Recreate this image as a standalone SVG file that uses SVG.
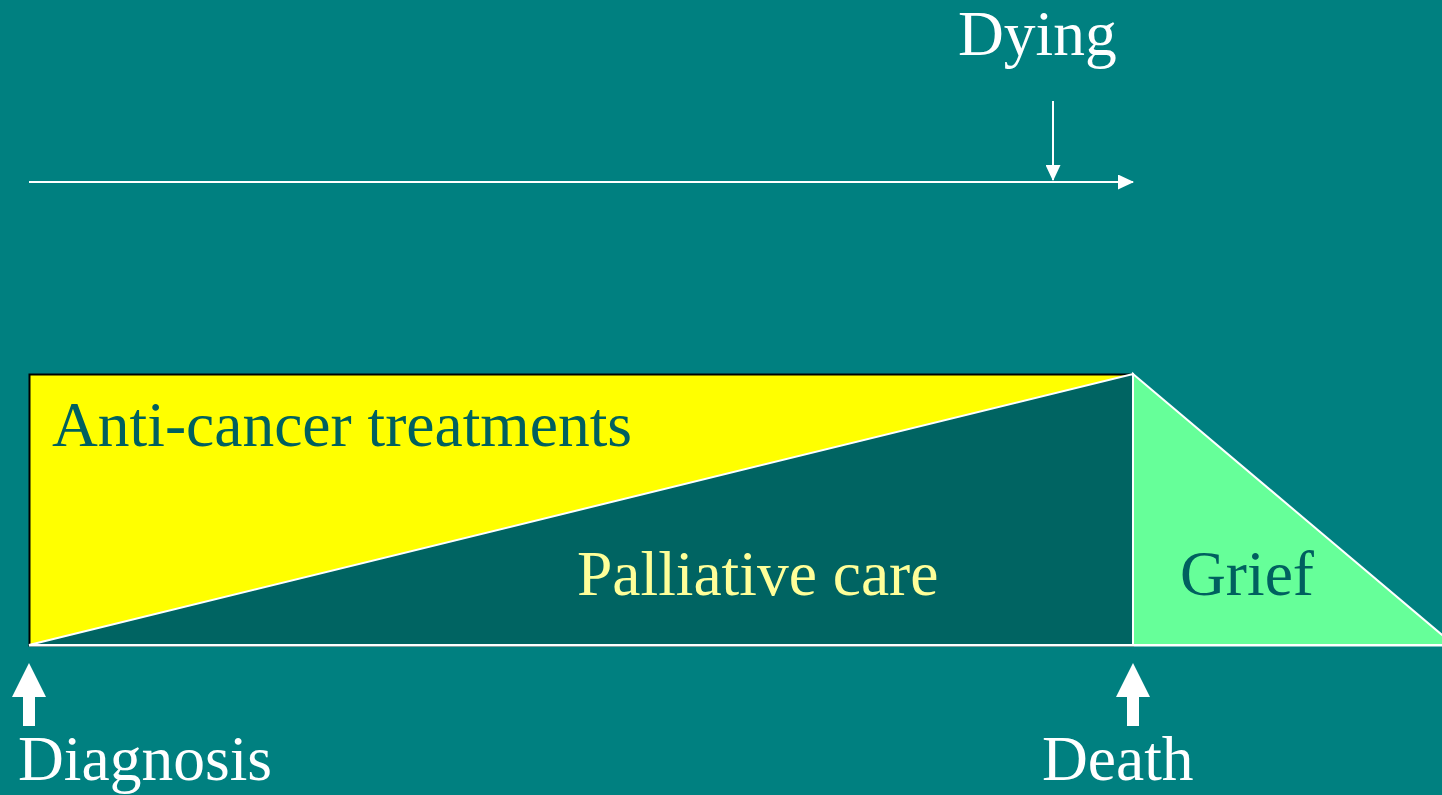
<svg xmlns="http://www.w3.org/2000/svg" width="1442" height="795" viewBox="0 0 1442 795">
<style>
.t{font-family:"Liberation Serif","Times New Roman",serif;font-size:63.5px}
.w{fill:#ffffff}
.dk{fill:#00605f}
</style>
<defs>
<marker id="ah" markerWidth="16" markerHeight="15" refX="15" refY="7.5" orient="auto" markerUnits="userSpaceOnUse">
<path d="M0,0 L16,7.5 L0,15 Z" fill="#ffffff"/>
</marker>
<path id="up" d="M0,0 L17,34 L6,34 L6,63 L-6,63 L-6,34 L-17,34 Z" fill="#ffffff"/>
</defs>
<rect width="1442" height="795" fill="#008080"/>
<g id="treatments">
<rect x="29.5" y="374.5" width="1103.5" height="271" fill="#ffff00" stroke="#000000" stroke-width="2"/>
<text class="t dk" x="52" y="446">Anti-cancer treatments</text>
</g>
<g id="palliative">
<polygon points="29,645 1133,374 1133,645" fill="#006462" stroke="#ffffff" stroke-width="2"/>
<text class="t" x="577" y="595" fill="#ffff99">Palliative care</text>
</g>
<g id="grief">
<polygon points="1133,374 1454,645 1133,645" fill="#66ff99" stroke="#ffffff" stroke-width="2"/>
<text class="t dk" x="1180" y="595">Grief</text>
</g>
<g id="baseline">
<line x1="29" y1="645.5" x2="1442" y2="645.5" stroke="#ffffff" stroke-width="2"/>
</g>
<g id="connectors">
<line x1="29" y1="182" x2="1133" y2="182" stroke="#ffffff" stroke-width="2" marker-end="url(#ah)"/>
<line x1="1053" y1="101" x2="1053" y2="180" stroke="#ffffff" stroke-width="2" marker-end="url(#ah)"/>
</g>
<g id="dying">
<text class="t w" x="958" y="55">Dying</text>
</g>
<g id="diagnosis">
<use href="#up" x="29" y="663"/>
<text class="t w" x="18" y="780">Diagnosis</text>
</g>
<g id="death">
<use href="#up" x="1133" y="663"/>
<text class="t w" x="1042" y="780">Death</text>
</g>
</svg>
